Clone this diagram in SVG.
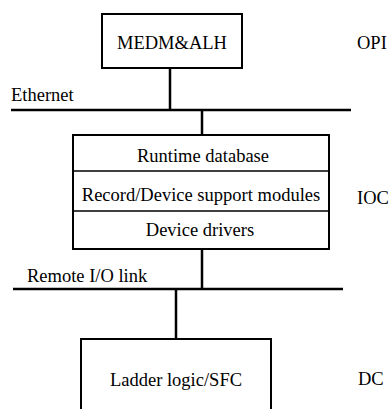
<svg xmlns="http://www.w3.org/2000/svg" width="389" height="409" viewBox="0 0 389 409">
<style>
  .box{fill:#fff;stroke:#000;stroke-width:2}
  .div{stroke:#000;stroke-width:1.5}
  .bus{stroke:#000;stroke-width:2.5;fill:none}
  .wire{stroke:#000;stroke-width:2.5;fill:none}
  text{font-family:"Liberation Serif","Times New Roman",serif;font-size:18.5px;fill:#000}
  .c{text-anchor:middle}
</style>
<rect width="389" height="409" fill="#fff"/>
<g id="connectors">
  <line class="wire" x1="170" y1="68" x2="170" y2="110"/>
  <line class="bus" x1="11" y1="110" x2="351" y2="110"/>
  <line class="wire" x1="202" y1="110" x2="202" y2="135"/>
  <line class="wire" x1="202" y1="249" x2="202" y2="289"/>
  <line class="bus" x1="13" y1="289" x2="343" y2="289"/>
  <line class="wire" x1="176" y1="289" x2="176" y2="339"/>
</g>
<g id="opi">
  <rect class="box" x="102" y="14" width="140" height="54"/>
  <text class="c" x="172" y="49">MEDM&amp;ALH</text>
</g>
<text id="label-opi" x="357" y="49">OPI</text>
<text id="label-ethernet" x="11" y="101">Ethernet</text>
<g id="ioc">
  <rect class="box" x="73" y="135" width="256" height="114"/>
  <line class="div" x1="73" y1="171" x2="329" y2="171"/>
  <line class="div" x1="73" y1="211" x2="329" y2="211"/>
  <text class="c" x="203" y="162">Runtime database</text>
  <text class="c" x="201" y="201">Record/Device support modules</text>
  <text class="c" x="200" y="236">Device drivers</text>
</g>
<text id="label-ioc" x="357" y="204">IOC</text>
<text id="label-remote" x="27" y="282">Remote I/O link</text>
<g id="dc">
  <path class="box" d="M81,412 V339 H271 V412"/>
  <text class="c" x="176" y="386">Ladder logic/SFC</text>
</g>
<text id="label-dc" x="358" y="385">DC</text>
</svg>
